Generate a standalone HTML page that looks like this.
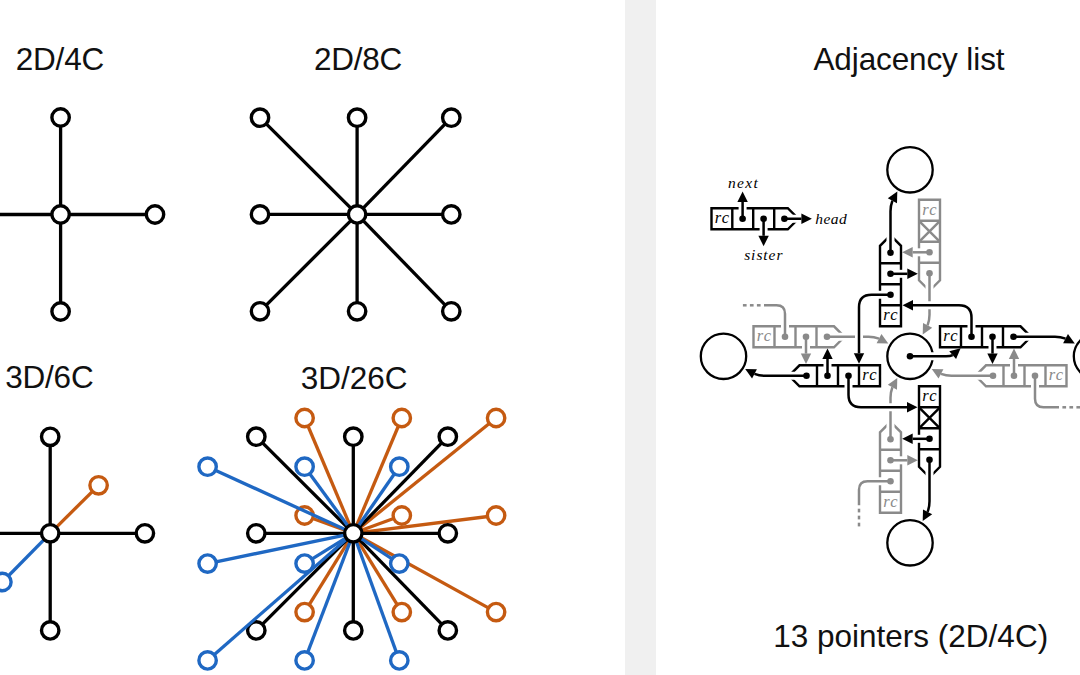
<!DOCTYPE html>
<html><head><meta charset="utf-8"><style>
html,body{margin:0;padding:0;background:#fff;}
body{width:1080px;height:675px;overflow:hidden;position:relative;}
.band{position:absolute;left:625px;top:0;width:31px;height:675px;background:#f0f0f0;}
svg{position:absolute;left:0;top:0;}
</style></head><body>
<div class="band"></div>
<svg width="1080" height="675" viewBox="0 0 1080 675">
<g font-family="Liberation Sans, sans-serif" font-size="31.5" fill="#111">
<text x="59.9" y="69.8" text-anchor="middle" letter-spacing="-0.2">2D/4C</text>
<text x="357.98" y="69.8" text-anchor="middle" letter-spacing="-0.25">2D/8C</text>
<text x="49.3" y="388.4" text-anchor="middle" letter-spacing="-0.2">3D/6C</text>
<text x="354.1" y="388.7" text-anchor="middle" letter-spacing="0.0">3D/26C</text>
<text x="908.94" y="70.1" text-anchor="middle" letter-spacing="-0.12">Adjacency list</text>
<text x="910.7" y="647.1" text-anchor="middle" letter-spacing="0.0">13 pointers (2D/4C)</text>
</g>
<g stroke-linecap="butt">
<line x1="60.6" y1="214.5" x2="60.6" y2="117.5" stroke="#000" stroke-width="3.3"/>
<line x1="60.6" y1="214.5" x2="60.6" y2="311.5" stroke="#000" stroke-width="3.3"/>
<line x1="60.6" y1="214.5" x2="155" y2="214.5" stroke="#000" stroke-width="3.3"/>
<line x1="60.6" y1="214.5" x2="-34" y2="214.5" stroke="#000" stroke-width="3.3"/>
<circle cx="60.6" cy="117.5" r="8.7" fill="#fff" stroke="#000" stroke-width="3.4"/>
<circle cx="60.6" cy="311.5" r="8.7" fill="#fff" stroke="#000" stroke-width="3.4"/>
<circle cx="155" cy="214.5" r="8.7" fill="#fff" stroke="#000" stroke-width="3.4"/>
<circle cx="-34" cy="214.5" r="8.7" fill="#fff" stroke="#000" stroke-width="3.4"/>
<circle cx="60.6" cy="214.5" r="8.7" fill="#fff" stroke="#000" stroke-width="3.4"/>
<line x1="357.1" y1="214.4" x2="260" y2="117.7" stroke="#000" stroke-width="3.3"/>
<line x1="357.1" y1="214.4" x2="357.1" y2="117.7" stroke="#000" stroke-width="3.3"/>
<line x1="357.1" y1="214.4" x2="451.3" y2="117.7" stroke="#000" stroke-width="3.3"/>
<line x1="357.1" y1="214.4" x2="260" y2="214.4" stroke="#000" stroke-width="3.3"/>
<line x1="357.1" y1="214.4" x2="451.3" y2="214.4" stroke="#000" stroke-width="3.3"/>
<line x1="357.1" y1="214.4" x2="260" y2="311.3" stroke="#000" stroke-width="3.3"/>
<line x1="357.1" y1="214.4" x2="357.1" y2="311.3" stroke="#000" stroke-width="3.3"/>
<line x1="357.1" y1="214.4" x2="451.3" y2="311.3" stroke="#000" stroke-width="3.3"/>
<circle cx="260" cy="117.7" r="8.7" fill="#fff" stroke="#000" stroke-width="3.4"/>
<circle cx="357.1" cy="117.7" r="8.7" fill="#fff" stroke="#000" stroke-width="3.4"/>
<circle cx="451.3" cy="117.7" r="8.7" fill="#fff" stroke="#000" stroke-width="3.4"/>
<circle cx="260" cy="214.4" r="8.7" fill="#fff" stroke="#000" stroke-width="3.4"/>
<circle cx="451.3" cy="214.4" r="8.7" fill="#fff" stroke="#000" stroke-width="3.4"/>
<circle cx="260" cy="311.3" r="8.7" fill="#fff" stroke="#000" stroke-width="3.4"/>
<circle cx="357.1" cy="311.3" r="8.7" fill="#fff" stroke="#000" stroke-width="3.4"/>
<circle cx="451.3" cy="311.3" r="8.7" fill="#fff" stroke="#000" stroke-width="3.4"/>
<circle cx="357.1" cy="214.4" r="8.7" fill="#fff" stroke="#000" stroke-width="3.4"/>
<line x1="50.2" y1="533.3" x2="50.2" y2="436.8" stroke="#000" stroke-width="3.3"/>
<line x1="50.2" y1="533.3" x2="50.2" y2="630.4" stroke="#000" stroke-width="3.3"/>
<line x1="50.2" y1="533.3" x2="144.9" y2="533.3" stroke="#000" stroke-width="3.3"/>
<line x1="50.2" y1="533.3" x2="-46.8" y2="533.3" stroke="#000" stroke-width="3.3"/>
<line x1="50.2" y1="533.3" x2="98.6" y2="485.3" stroke="#c55a11" stroke-width="3.3"/>
<line x1="50.2" y1="533.3" x2="2.4" y2="582" stroke="#1f68c3" stroke-width="3.3"/>
<circle cx="50.2" cy="436.8" r="8.7" fill="#fff" stroke="#000" stroke-width="3.4"/>
<circle cx="50.2" cy="630.4" r="8.7" fill="#fff" stroke="#000" stroke-width="3.4"/>
<circle cx="144.9" cy="533.3" r="8.7" fill="#fff" stroke="#000" stroke-width="3.4"/>
<circle cx="-46.8" cy="533.3" r="8.7" fill="#fff" stroke="#000" stroke-width="3.4"/>
<circle cx="98.6" cy="485.3" r="8.7" fill="#fff" stroke="#c55a11" stroke-width="3.4"/>
<circle cx="2.4" cy="582" r="8.7" fill="#fff" stroke="#1f68c3" stroke-width="3.4"/>
<circle cx="50.2" cy="533.3" r="8.7" fill="#fff" stroke="#000" stroke-width="3.4"/>
<line x1="353.3" y1="533.3" x2="304.6" y2="418" stroke="#c55a11" stroke-width="3.3"/>
<line x1="353.3" y1="533.3" x2="401.8" y2="418" stroke="#c55a11" stroke-width="3.3"/>
<line x1="353.3" y1="533.3" x2="496.1" y2="418" stroke="#c55a11" stroke-width="3.3"/>
<line x1="353.3" y1="533.3" x2="304.6" y2="515.5" stroke="#c55a11" stroke-width="3.3"/>
<line x1="353.3" y1="533.3" x2="401.8" y2="515.5" stroke="#c55a11" stroke-width="3.3"/>
<line x1="353.3" y1="533.3" x2="496.1" y2="515.5" stroke="#c55a11" stroke-width="3.3"/>
<line x1="353.3" y1="533.3" x2="304.6" y2="612.1" stroke="#c55a11" stroke-width="3.3"/>
<line x1="353.3" y1="533.3" x2="401.8" y2="612.1" stroke="#c55a11" stroke-width="3.3"/>
<line x1="353.3" y1="533.3" x2="496.1" y2="612.1" stroke="#c55a11" stroke-width="3.3"/>
<circle cx="304.6" cy="418" r="8.7" fill="#fff" stroke="#c55a11" stroke-width="3.4"/>
<circle cx="401.8" cy="418" r="8.7" fill="#fff" stroke="#c55a11" stroke-width="3.4"/>
<circle cx="496.1" cy="418" r="8.7" fill="#fff" stroke="#c55a11" stroke-width="3.4"/>
<circle cx="304.6" cy="515.5" r="8.7" fill="#fff" stroke="#c55a11" stroke-width="3.4"/>
<circle cx="401.8" cy="515.5" r="8.7" fill="#fff" stroke="#c55a11" stroke-width="3.4"/>
<circle cx="496.1" cy="515.5" r="8.7" fill="#fff" stroke="#c55a11" stroke-width="3.4"/>
<circle cx="304.6" cy="612.1" r="8.7" fill="#fff" stroke="#c55a11" stroke-width="3.4"/>
<circle cx="401.8" cy="612.1" r="8.7" fill="#fff" stroke="#c55a11" stroke-width="3.4"/>
<circle cx="496.1" cy="612.1" r="8.7" fill="#fff" stroke="#c55a11" stroke-width="3.4"/>
<line x1="353.3" y1="533.3" x2="256.3" y2="436.7" stroke="#000" stroke-width="3.3"/>
<line x1="353.3" y1="533.3" x2="353.3" y2="436.7" stroke="#000" stroke-width="3.3"/>
<line x1="353.3" y1="533.3" x2="447.8" y2="436.7" stroke="#000" stroke-width="3.3"/>
<line x1="353.3" y1="533.3" x2="256.3" y2="533.3" stroke="#000" stroke-width="3.3"/>
<line x1="353.3" y1="533.3" x2="447.8" y2="533.3" stroke="#000" stroke-width="3.3"/>
<line x1="353.3" y1="533.3" x2="256.3" y2="630.4" stroke="#000" stroke-width="3.3"/>
<line x1="353.3" y1="533.3" x2="353.3" y2="630.4" stroke="#000" stroke-width="3.3"/>
<line x1="353.3" y1="533.3" x2="447.8" y2="630.4" stroke="#000" stroke-width="3.3"/>
<circle cx="256.3" cy="436.7" r="8.7" fill="#fff" stroke="#000" stroke-width="3.4"/>
<circle cx="353.3" cy="436.7" r="8.7" fill="#fff" stroke="#000" stroke-width="3.4"/>
<circle cx="447.8" cy="436.7" r="8.7" fill="#fff" stroke="#000" stroke-width="3.4"/>
<circle cx="256.3" cy="533.3" r="8.7" fill="#fff" stroke="#000" stroke-width="3.4"/>
<circle cx="447.8" cy="533.3" r="8.7" fill="#fff" stroke="#000" stroke-width="3.4"/>
<circle cx="256.3" cy="630.4" r="8.7" fill="#fff" stroke="#000" stroke-width="3.4"/>
<circle cx="353.3" cy="630.4" r="8.7" fill="#fff" stroke="#000" stroke-width="3.4"/>
<circle cx="447.8" cy="630.4" r="8.7" fill="#fff" stroke="#000" stroke-width="3.4"/>
<line x1="353.3" y1="533.3" x2="207.6" y2="466.7" stroke="#1f68c3" stroke-width="3.3"/>
<line x1="353.3" y1="533.3" x2="304.6" y2="466.7" stroke="#1f68c3" stroke-width="3.3"/>
<line x1="353.3" y1="533.3" x2="399.3" y2="466.7" stroke="#1f68c3" stroke-width="3.3"/>
<line x1="353.3" y1="533.3" x2="207.6" y2="563.6" stroke="#1f68c3" stroke-width="3.3"/>
<line x1="353.3" y1="533.3" x2="304.6" y2="563.6" stroke="#1f68c3" stroke-width="3.3"/>
<line x1="353.3" y1="533.3" x2="399.3" y2="563.6" stroke="#1f68c3" stroke-width="3.3"/>
<line x1="353.3" y1="533.3" x2="207.6" y2="660.4" stroke="#1f68c3" stroke-width="3.3"/>
<line x1="353.3" y1="533.3" x2="304.6" y2="660.4" stroke="#1f68c3" stroke-width="3.3"/>
<line x1="353.3" y1="533.3" x2="399.3" y2="660.4" stroke="#1f68c3" stroke-width="3.3"/>
<circle cx="207.6" cy="466.7" r="8.7" fill="#fff" stroke="#1f68c3" stroke-width="3.4"/>
<circle cx="304.6" cy="466.7" r="8.7" fill="#fff" stroke="#1f68c3" stroke-width="3.4"/>
<circle cx="399.3" cy="466.7" r="8.7" fill="#fff" stroke="#1f68c3" stroke-width="3.4"/>
<circle cx="207.6" cy="563.6" r="8.7" fill="#fff" stroke="#1f68c3" stroke-width="3.4"/>
<circle cx="304.6" cy="563.6" r="8.7" fill="#fff" stroke="#1f68c3" stroke-width="3.4"/>
<circle cx="399.3" cy="563.6" r="8.7" fill="#fff" stroke="#1f68c3" stroke-width="3.4"/>
<circle cx="207.6" cy="660.4" r="8.7" fill="#fff" stroke="#1f68c3" stroke-width="3.4"/>
<circle cx="304.6" cy="660.4" r="8.7" fill="#fff" stroke="#1f68c3" stroke-width="3.4"/>
<circle cx="399.3" cy="660.4" r="8.7" fill="#fff" stroke="#1f68c3" stroke-width="3.4"/>
<circle cx="353.3" cy="533.3" r="8.7" fill="#fff" stroke="#000" stroke-width="3.4"/>
</g>
<g>
<circle cx="1096.5" cy="356.3" r="22.7" fill="#fff" stroke="#000" stroke-width="2.3"/>
<circle cx="910" cy="169.8" r="22.7" fill="#fff" stroke="#000" stroke-width="2.3"/>
<circle cx="723.5" cy="356.3" r="22.7" fill="#fff" stroke="#000" stroke-width="2.3"/>
<circle cx="910" cy="542.8" r="22.7" fill="#fff" stroke="#000" stroke-width="2.3"/>
<circle cx="910" cy="356.3" r="22.7" fill="#fff" stroke="#000" stroke-width="2.3"/>
<g transform="translate(910,356.3) rotate(0)"><path d="M156.5 30 L76 30 L65.5 19.5 L76 9 L156.5 9 Z M135.5 30 L135.5 9 M114.5 30 L114.5 9 M93.5 30 L93.5 9" fill="#fff" stroke="#8a8a8a" stroke-width="2.4" stroke-linejoin="miter"/><path d="M83 19.5 L41.5 19.5 Q36 19.5 30.98 17.61" fill="none" stroke="#fff" stroke-width="8.0"/><path d="M83 19.5 L41.5 19.5 Q36 19.5 30.98 17.61" fill="none" stroke="#8a8a8a" stroke-width="2.5"/><path d="M21.7 12.7 L33.41 13.01 L28.55 22.2 Z" fill="#8a8a8a"/><path d="M104 19.5 L104 2.7" fill="none" stroke="#fff" stroke-width="8.0"/><path d="M104 19.5 L104 2.7" fill="none" stroke="#8a8a8a" stroke-width="2.5"/><path d="M104 -7.8 L109.2 2.7 L98.8 2.7 Z" fill="#8a8a8a"/><path d="M125 19.5 L125 42.5 Q125 51 133.5 51 L149 51" fill="none" stroke="#fff" stroke-width="8.0"/><path d="M125 19.5 L125 42.5 Q125 51 133.5 51 L149 51" fill="none" stroke="#8a8a8a" stroke-width="2.5"/><path d="M152.4 51 L156.1 51" stroke="#8a8a8a" stroke-width="2.5"/><path d="M159.4 51 L163.1 51" stroke="#8a8a8a" stroke-width="2.5"/><path d="M166.4 51 L170.1 51" stroke="#8a8a8a" stroke-width="2.5"/><circle cx="83" cy="19.5" r="3.3" fill="#8a8a8a"/><circle cx="104" cy="19.5" r="3.3" fill="#8a8a8a"/><circle cx="125" cy="19.5" r="3.3" fill="#8a8a8a"/></g>
<g transform="translate(910,356.3) rotate(-90)"><path d="M156.5 30 L76 30 L65.5 19.5 L76 9 L156.5 9 Z M135.5 30 L135.5 9 M114.5 30 L114.5 9 M93.5 30 L93.5 9" fill="#fff" stroke="#8a8a8a" stroke-width="2.4" stroke-linejoin="miter"/><path d="M135.5 30 L114.5 9 M135.5 9 L114.5 30 " stroke="#8a8a8a" stroke-width="2.4" fill="none"/><path d="M83 19.5 L41.5 19.5 Q36 19.5 30.98 17.61" fill="none" stroke="#fff" stroke-width="8.0"/><path d="M83 19.5 L41.5 19.5 Q36 19.5 30.98 17.61" fill="none" stroke="#8a8a8a" stroke-width="2.5"/><path d="M21.7 12.7 L33.41 13.01 L28.55 22.2 Z" fill="#8a8a8a"/><path d="M104 19.5 L104 2.7" fill="none" stroke="#fff" stroke-width="8.0"/><path d="M104 19.5 L104 2.7" fill="none" stroke="#8a8a8a" stroke-width="2.5"/><path d="M104 -7.8 L109.2 2.7 L98.8 2.7 Z" fill="#8a8a8a"/><circle cx="83" cy="19.5" r="3.3" fill="#8a8a8a"/><circle cx="104" cy="19.5" r="3.3" fill="#8a8a8a"/></g>
<g transform="translate(910,356.3) rotate(180)"><path d="M156.5 30 L76 30 L65.5 19.5 L76 9 L156.5 9 Z M135.5 30 L135.5 9 M114.5 30 L114.5 9 M93.5 30 L93.5 9" fill="#fff" stroke="#8a8a8a" stroke-width="2.4" stroke-linejoin="miter"/><path d="M83 19.5 L41.5 19.5 Q36 19.5 30.98 17.61" fill="none" stroke="#fff" stroke-width="8.0"/><path d="M83 19.5 L41.5 19.5 Q36 19.5 30.98 17.61" fill="none" stroke="#8a8a8a" stroke-width="2.5"/><path d="M21.7 12.7 L33.41 13.01 L28.55 22.2 Z" fill="#8a8a8a"/><path d="M104 19.5 L104 2.7" fill="none" stroke="#fff" stroke-width="8.0"/><path d="M104 19.5 L104 2.7" fill="none" stroke="#8a8a8a" stroke-width="2.5"/><path d="M104 -7.8 L109.2 2.7 L98.8 2.7 Z" fill="#8a8a8a"/><path d="M125 19.5 L125 42.5 Q125 51 133.5 51 L146 51" fill="none" stroke="#fff" stroke-width="8.0"/><path d="M125 19.5 L125 42.5 Q125 51 133.5 51 L146 51" fill="none" stroke="#8a8a8a" stroke-width="2.5"/><path d="M149.4 51 L153.1 51" stroke="#8a8a8a" stroke-width="2.5"/><path d="M156.4 51 L160.1 51" stroke="#8a8a8a" stroke-width="2.5"/><path d="M163.4 51 L167.1 51" stroke="#8a8a8a" stroke-width="2.5"/><circle cx="83" cy="19.5" r="3.3" fill="#8a8a8a"/><circle cx="104" cy="19.5" r="3.3" fill="#8a8a8a"/><circle cx="125" cy="19.5" r="3.3" fill="#8a8a8a"/></g>
<g transform="translate(910,356.3) rotate(90)"><path d="M156.5 30 L76 30 L65.5 19.5 L76 9 L156.5 9 Z M135.5 30 L135.5 9 M114.5 30 L114.5 9 M93.5 30 L93.5 9" fill="#fff" stroke="#8a8a8a" stroke-width="2.4" stroke-linejoin="miter"/><path d="M83 19.5 L41.5 19.5 Q36 19.5 30.98 17.61" fill="none" stroke="#fff" stroke-width="8.0"/><path d="M83 19.5 L41.5 19.5 Q36 19.5 30.98 17.61" fill="none" stroke="#8a8a8a" stroke-width="2.5"/><path d="M21.7 12.7 L33.41 13.01 L28.55 22.2 Z" fill="#8a8a8a"/><path d="M104 19.5 L104 2.7" fill="none" stroke="#fff" stroke-width="8.0"/><path d="M104 19.5 L104 2.7" fill="none" stroke="#8a8a8a" stroke-width="2.5"/><path d="M104 -7.8 L109.2 2.7 L98.8 2.7 Z" fill="#8a8a8a"/><path d="M125 19.5 L125 42.5 Q125 51 133.5 51 L149 51" fill="none" stroke="#fff" stroke-width="8.0"/><path d="M125 19.5 L125 42.5 Q125 51 133.5 51 L149 51" fill="none" stroke="#8a8a8a" stroke-width="2.5"/><path d="M152.4 51 L156.1 51" stroke="#8a8a8a" stroke-width="2.5"/><path d="M159.4 51 L163.1 51" stroke="#8a8a8a" stroke-width="2.5"/><path d="M166.4 51 L170.1 51" stroke="#8a8a8a" stroke-width="2.5"/><circle cx="83" cy="19.5" r="3.3" fill="#8a8a8a"/><circle cx="104" cy="19.5" r="3.3" fill="#8a8a8a"/><circle cx="125" cy="19.5" r="3.3" fill="#8a8a8a"/></g>
<g transform="translate(910,356.3) rotate(0)"><path d="M30 -30 L110.5 -30 L121 -19.5 L110.5 -9 L30 -9 Z M51 -30 L51 -9 M72 -30 L72 -9 M93 -30 L93 -9" fill="#fff" stroke="#000" stroke-width="2.4" stroke-linejoin="miter"/><path d="M103.5 -19.5 L145 -19.5 Q150.5 -19.5 155.52 -17.61" fill="none" stroke="#fff" stroke-width="8.0"/><path d="M103.5 -19.5 L145 -19.5 Q150.5 -19.5 155.52 -17.61" fill="none" stroke="#000" stroke-width="2.5"/><path d="M164.8 -12.7 L153.09 -13.01 L157.95 -22.2 Z" fill="#000"/><path d="M82.5 -19.5 L82.5 -2.7" fill="none" stroke="#fff" stroke-width="8.0"/><path d="M82.5 -19.5 L82.5 -2.7" fill="none" stroke="#000" stroke-width="2.5"/><path d="M82.5 7.8 L77.3 -2.7 L87.7 -2.7 Z" fill="#000"/><path d="M61.5 -19.5 L61.5 -38.5 Q61.5 -51 49 -51 L3 -51" fill="none" stroke="#fff" stroke-width="8.0"/><path d="M61.5 -19.5 L61.5 -38.5 Q61.5 -51 49 -51 L3 -51" fill="none" stroke="#000" stroke-width="2.5"/><path d="M-7.5 -51 L3 -56.2 L3 -45.8 Z" fill="#000"/><circle cx="103.5" cy="-19.5" r="3.3" fill="#000"/><circle cx="82.5" cy="-19.5" r="3.3" fill="#000"/><circle cx="61.5" cy="-19.5" r="3.3" fill="#000"/></g>
<g transform="translate(910,356.3) rotate(-90)"><path d="M30 -30 L110.5 -30 L121 -19.5 L110.5 -9 L30 -9 Z M51 -30 L51 -9 M72 -30 L72 -9 M93 -30 L93 -9" fill="#fff" stroke="#000" stroke-width="2.4" stroke-linejoin="miter"/><path d="M103.5 -19.5 L145 -19.5 Q150.5 -19.5 155.52 -17.61" fill="none" stroke="#fff" stroke-width="8.0"/><path d="M103.5 -19.5 L145 -19.5 Q150.5 -19.5 155.52 -17.61" fill="none" stroke="#000" stroke-width="2.5"/><path d="M164.8 -12.7 L153.09 -13.01 L157.95 -22.2 Z" fill="#000"/><path d="M82.5 -19.5 L82.5 -2.7" fill="none" stroke="#fff" stroke-width="8.0"/><path d="M82.5 -19.5 L82.5 -2.7" fill="none" stroke="#000" stroke-width="2.5"/><path d="M82.5 7.8 L77.3 -2.7 L87.7 -2.7 Z" fill="#000"/><path d="M61.5 -19.5 L61.5 -38.5 Q61.5 -51 49 -51 L3 -51" fill="none" stroke="#fff" stroke-width="8.0"/><path d="M61.5 -19.5 L61.5 -38.5 Q61.5 -51 49 -51 L3 -51" fill="none" stroke="#000" stroke-width="2.5"/><path d="M-7.5 -51 L3 -56.2 L3 -45.8 Z" fill="#000"/><circle cx="103.5" cy="-19.5" r="3.3" fill="#000"/><circle cx="82.5" cy="-19.5" r="3.3" fill="#000"/><circle cx="61.5" cy="-19.5" r="3.3" fill="#000"/></g>
<g transform="translate(910,356.3) rotate(180)"><path d="M30 -30 L110.5 -30 L121 -19.5 L110.5 -9 L30 -9 Z M51 -30 L51 -9 M72 -30 L72 -9 M93 -30 L93 -9" fill="#fff" stroke="#000" stroke-width="2.4" stroke-linejoin="miter"/><path d="M103.5 -19.5 L145 -19.5 Q150.5 -19.5 155.52 -17.61" fill="none" stroke="#fff" stroke-width="8.0"/><path d="M103.5 -19.5 L145 -19.5 Q150.5 -19.5 155.52 -17.61" fill="none" stroke="#000" stroke-width="2.5"/><path d="M164.8 -12.7 L153.09 -13.01 L157.95 -22.2 Z" fill="#000"/><path d="M82.5 -19.5 L82.5 -2.7" fill="none" stroke="#fff" stroke-width="8.0"/><path d="M82.5 -19.5 L82.5 -2.7" fill="none" stroke="#000" stroke-width="2.5"/><path d="M82.5 7.8 L77.3 -2.7 L87.7 -2.7 Z" fill="#000"/><path d="M61.5 -19.5 L61.5 -38.5 Q61.5 -51 49 -51 L3 -51" fill="none" stroke="#fff" stroke-width="8.0"/><path d="M61.5 -19.5 L61.5 -38.5 Q61.5 -51 49 -51 L3 -51" fill="none" stroke="#000" stroke-width="2.5"/><path d="M-7.5 -51 L3 -56.2 L3 -45.8 Z" fill="#000"/><circle cx="103.5" cy="-19.5" r="3.3" fill="#000"/><circle cx="82.5" cy="-19.5" r="3.3" fill="#000"/><circle cx="61.5" cy="-19.5" r="3.3" fill="#000"/></g>
<g transform="translate(910,356.3) rotate(90)"><path d="M30 -30 L110.5 -30 L121 -19.5 L110.5 -9 L30 -9 Z M51 -30 L51 -9 M72 -30 L72 -9 M93 -30 L93 -9" fill="#fff" stroke="#000" stroke-width="2.4" stroke-linejoin="miter"/><path d="M51 -30 L72 -9 M51 -9 L72 -30 " stroke="#000" stroke-width="2.4" fill="none"/><path d="M103.5 -19.5 L145 -19.5 Q150.5 -19.5 155.52 -17.61" fill="none" stroke="#fff" stroke-width="8.0"/><path d="M103.5 -19.5 L145 -19.5 Q150.5 -19.5 155.52 -17.61" fill="none" stroke="#000" stroke-width="2.5"/><path d="M164.8 -12.7 L153.09 -13.01 L157.95 -22.2 Z" fill="#000"/><path d="M82.5 -19.5 L82.5 -2.7" fill="none" stroke="#fff" stroke-width="8.0"/><path d="M82.5 -19.5 L82.5 -2.7" fill="none" stroke="#000" stroke-width="2.5"/><path d="M82.5 7.8 L77.3 -2.7 L87.7 -2.7 Z" fill="#000"/><circle cx="103.5" cy="-19.5" r="3.3" fill="#000"/><circle cx="82.5" cy="-19.5" r="3.3" fill="#000"/></g>
<path d="M910 356.3 L946 356.3 Q950.5 356.3 952.67 355.18" fill="none" stroke="#fff" stroke-width="8.0"/><path d="M910 356.3 L946 356.3 Q950.5 356.3 952.67 355.18" fill="none" stroke="#000" stroke-width="2.5"/>
<path d="M960.6 348.3 L956.07 359.11 L949.26 351.25 Z" fill="#000"/>
<circle cx="910" cy="356.3" r="3.3" fill="#000"/>
<text x="951.1" y="341.1" fill="#000" font-family="Liberation Serif" font-style="italic" font-size="16.5" text-anchor="middle" letter-spacing="1.2">rc</text>
<text x="1056.6" y="380.1" fill="#8a8a8a" font-family="Liberation Serif" font-style="italic" font-size="16.5" text-anchor="middle" letter-spacing="1.2">rc</text>
<text x="891.1" y="320.1" fill="#000" font-family="Liberation Serif" font-style="italic" font-size="16.5" text-anchor="middle" letter-spacing="1.2">rc</text>
<text x="930.1" y="214.6" fill="#8a8a8a" font-family="Liberation Serif" font-style="italic" font-size="16.5" text-anchor="middle" letter-spacing="1.2">rc</text>
<text x="870.1" y="380.1" fill="#000" font-family="Liberation Serif" font-style="italic" font-size="16.5" text-anchor="middle" letter-spacing="1.2">rc</text>
<text x="764.6" y="341.1" fill="#8a8a8a" font-family="Liberation Serif" font-style="italic" font-size="16.5" text-anchor="middle" letter-spacing="1.2">rc</text>
<text x="930.1" y="401.1" fill="#000" font-family="Liberation Serif" font-style="italic" font-size="16.5" text-anchor="middle" letter-spacing="1.2">rc</text>
<text x="891.1" y="506.6" fill="#8a8a8a" font-family="Liberation Serif" font-style="italic" font-size="16.5" text-anchor="middle" letter-spacing="1.2">rc</text>
<path d="M711.5 208.2 L787.8 208.2 L798.4 218.75 L787.8 229.3 L711.5 229.3 Z M732.3 208.2 L732.3 229.3 M753.2 208.2 L753.2 229.3 M774.2 208.2 L774.2 229.3" fill="#fff" stroke="#000" stroke-width="2.4"/>
<path d="M742.6 218.75 L742.6 202" fill="none" stroke="#fff" stroke-width="8.0"/><path d="M742.6 218.75 L742.6 202" fill="none" stroke="#000" stroke-width="2.5"/>
<path d="M742.6 191.5 L747.8 202 L737.4 202 Z" fill="#000"/>
<path d="M763.6 218.75 L763.6 235.8" fill="none" stroke="#fff" stroke-width="8.0"/><path d="M763.6 218.75 L763.6 235.8" fill="none" stroke="#000" stroke-width="2.5"/>
<path d="M763.6 246.3 L758.4 235.8 L768.8 235.8 Z" fill="#000"/>
<path d="M784.4 218.75 L801.4 218.75" fill="none" stroke="#fff" stroke-width="8.0"/><path d="M784.4 218.75 L801.4 218.75" fill="none" stroke="#000" stroke-width="2.5"/>
<path d="M811.9 218.75 L801.4 223.95 L801.4 213.55 Z" fill="#000"/>
<circle cx="742.6" cy="218.75" r="3.3" fill="#000"/>
<circle cx="763.6" cy="218.75" r="3.3" fill="#000"/>
<circle cx="784.4" cy="218.75" r="3.3" fill="#000"/>
<text x="722.4" y="223.05" fill="#000" font-family="Liberation Serif" font-style="italic" font-size="16.5" text-anchor="middle" letter-spacing="1.2">rc</text>
<text x="743.6" y="187.8" font-family="Liberation Serif" font-style="italic" font-size="15.5" text-anchor="middle" letter-spacing="1.4">next</text>
<text x="763.8" y="259.6" font-family="Liberation Serif" font-style="italic" font-size="15.5" text-anchor="middle" letter-spacing="0.95">sister</text>
<text x="815.3" y="223.6" font-family="Liberation Serif" font-style="italic" font-size="15.5" letter-spacing="0.4">head</text>
</g>
</svg>
</body></html>
